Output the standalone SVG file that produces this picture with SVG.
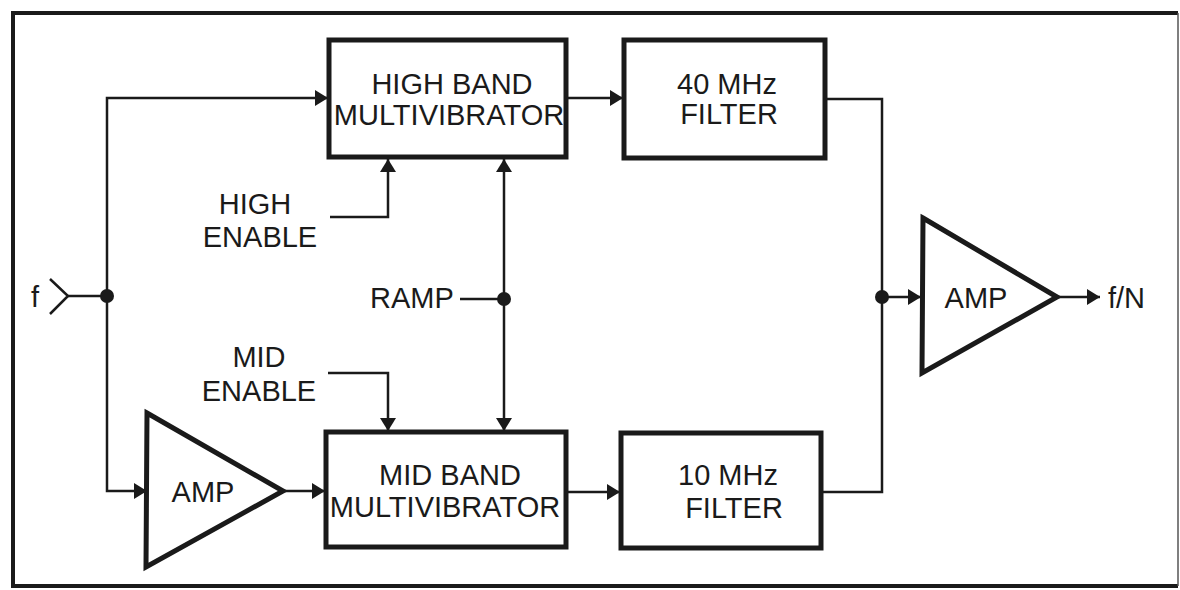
<svg xmlns="http://www.w3.org/2000/svg" width="1180" height="590" viewBox="0 0 1180 590">
<style>
.box{fill:#fff;stroke:#1a1a1a;stroke-width:5}
.tri{fill:#fff;stroke:#1a1a1a;stroke-width:5;stroke-linejoin:miter}
.w{fill:none;stroke:#1a1a1a;stroke-width:2.5}
.dot{fill:#1a1a1a}
text{font-family:"Liberation Sans",Arial,sans-serif;font-size:29px;fill:#1a1a1a}
.c{text-anchor:middle}
</style>
<defs>
<marker id="ah" viewBox="0 0 13 16" refX="13" refY="8" markerWidth="13" markerHeight="16" markerUnits="userSpaceOnUse" orient="auto">
<path d="M0,0 L13,8 L0,16 Z" fill="#1a1a1a"/>
</marker>
</defs>
<rect width="1180" height="590" fill="#fff"/>
<g id="frame">
<path d="M1178,13 L13,13 L13,586 L1178,586" fill="none" stroke="#1a1a1a" stroke-width="4"/>
<line x1="1178" y1="13" x2="1178" y2="586" stroke="#555" stroke-width="1.5"/>
</g>
<g id="connectors">
<path class="w" d="M68,296 L107,296 L107,98 L328,98" marker-end="url(#ah)"/>
<path class="w" d="M107,296 L107,491 L147,491" marker-end="url(#ah)"/>
<path class="w" d="M283,491 L325,491" marker-end="url(#ah)"/>
<path class="w" d="M566,98 L623,98" marker-end="url(#ah)"/>
<path class="w" d="M566,492 L620,492" marker-end="url(#ah)"/>
<path class="w" d="M825,99 L882,99 L882,297"/>
<path class="w" d="M821,492 L882,492 L882,297"/>
<path class="w" d="M882,297 L921,297" marker-end="url(#ah)"/>
<path class="w" d="M1057,297 L1100,297" marker-end="url(#ah)"/>
<path class="w" d="M330,217 L388,217 L388,159" marker-end="url(#ah)"/>
<path class="w" d="M328,373 L388,373 L388,431" marker-end="url(#ah)"/>
<path class="w" d="M504,299 L504,159" marker-end="url(#ah)"/>
<path class="w" d="M504,299 L504,431" marker-end="url(#ah)"/>
<path class="w" d="M460,299 L504,299"/>
<path class="w" d="M50,279 L68,296 L50,314"/>
<circle class="dot" cx="107" cy="296" r="7"/>
<circle class="dot" cx="504" cy="299" r="7"/>
<circle class="dot" cx="882" cy="297" r="7"/>
</g>
<g id="input-f">
<text x="31" y="307">f</text>
</g>
<g id="high-band">
<rect class="box" x="329" y="40" width="237" height="117"/>
<text class="c" x="452" y="94">HIGH BAND</text>
<text class="c" x="449" y="125">MULTIVIBRATOR</text>
</g>
<g id="filter-40">
<rect class="box" x="624" y="40" width="201" height="118"/>
<text class="c" x="727" y="94">40 MHz</text>
<text class="c" x="729" y="124">FILTER</text>
</g>
<g id="high-enable">
<text class="c" x="255" y="214">HIGH</text>
<text class="c" x="260" y="247">ENABLE</text>
</g>
<g id="ramp">
<text x="370" y="308">RAMP</text>
</g>
<g id="mid-enable">
<text class="c" x="259" y="367">MID</text>
<text class="c" x="259" y="401">ENABLE</text>
</g>
<g id="amp-left">
<polygon class="tri" points="147,413 283,491 146,567"/>
<text class="c" x="203" y="502">AMP</text>
</g>
<g id="mid-band">
<rect class="box" x="326" y="432" width="240" height="115"/>
<text class="c" x="450" y="485">MID BAND</text>
<text class="c" x="445" y="517">MULTIVIBRATOR</text>
</g>
<g id="filter-10">
<rect class="box" x="621" y="433" width="200" height="115"/>
<text class="c" x="728" y="485">10 MHz</text>
<text class="c" x="734" y="518">FILTER</text>
</g>
<g id="amp-right">
<polygon class="tri" points="923,218 1057,297 922,373"/>
<text class="c" x="976" y="308">AMP</text>
</g>
<g id="output">
<text x="1108" y="308">f/N</text>
</g>
</svg>
